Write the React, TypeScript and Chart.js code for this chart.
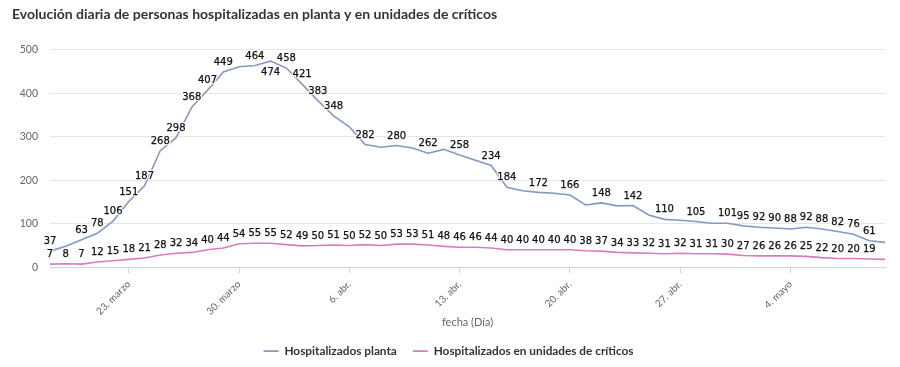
import React, { useEffect, useRef } from "react";
import { Chart, registerables } from "chart.js";

Chart.register(...registerables);

const TITLE = "Evolución diaria de personas hospitalizadas en planta y en unidades de críticos";
const X_TITLE = "fecha (Día)";

const categories = [
  "18. marzo", "19. marzo", "20. marzo", "21. marzo", "22. marzo", "23. marzo", "24. marzo",
  "25. marzo", "26. marzo", "27. marzo", "28. marzo", "29. marzo", "30. marzo", "31. marzo",
  "1. abr.", "2. abr.", "3. abr.", "4. abr.", "5. abr.", "6. abr.", "7. abr.", "8. abr.",
  "9. abr.", "10. abr.", "11. abr.", "12. abr.", "13. abr.", "14. abr.", "15. abr.", "16. abr.",
  "17. abr.", "18. abr.", "19. abr.", "20. abr.", "21. abr.", "22. abr.", "23. abr.", "24. abr.",
  "25. abr.", "26. abr.", "27. abr.", "28. abr.", "29. abr.", "30. abr.",
  "1. mayo", "2. mayo", "3. mayo", "4. mayo", "5. mayo", "6. mayo", "7. mayo", "8. mayo",
  "9. mayo", "10. mayo",
];

const tickLabels = ["23. marzo", "30. marzo", "6. abr.", "13. abr.", "20. abr.", "27. abr.", "4. mayo"];

const yTicks = [0, 100, 200, 300, 400, 500];

const planta = [
  37, 48, 63, 78, 106, 151, 187, 268, 298, 368,
  407, 449, 461, 464, 474, 458, 421, 383, 348, 323,
  282, 276, 280, 274, 262, 271, 258, 246, 234, 184,
  176, 172, 170, 166, 143, 148, 141, 142, 120, 110,
  108, 105, 101, 101, 95, 92, 90, 88, 92, 88,
  82, 76, 61, 57,
];

const criticos = [
  7, 8, 7, 12, 15, 18, 21, 28, 32, 34,
  40, 44, 54, 55, 55, 52, 49, 50, 51, 50,
  52, 50, 53, 53, 51, 48, 46, 46, 44, 40,
  40, 40, 40, 40, 38, 37, 34, 33, 32, 31,
  32, 31, 31, 30, 27, 26, 26, 26, 25, 22,
  20, 20, 19, 18,
];

// indices of points whose value label is hidden (overlap) in the original
const plantaHiddenLabels = [1, 12, 19, 21, 23, 25, 27, 30, 32, 34, 36, 38, 40, 42, 53];
const criticosHiddenLabels = [53];

const seriesNames = ["Hospitalizados planta", "Hospitalizados en unidades de críticos"];

const BLUE = "#8399c2";
const PINK = "#d97cbd";

const dataLabelPlugin = {
  id: "dataLabels",
  afterDatasetsDraw(chart: any) {
    const ctx = chart.ctx;
    const area = chart.chartArea;
    const hiddenSets = [plantaHiddenLabels, criticosHiddenLabels];
    ctx.save();
    ctx.font = "10px 'DejaVu Sans'";
    ctx.textAlign = "center";
    ctx.textBaseline = "middle";
    ctx.lineJoin = "round";
    chart.data.datasets.forEach((ds: any, di: number) => {
      const meta = chart.getDatasetMeta(di);
      meta.data.forEach((el: any, i: number) => {
        if (hiddenSets[di].includes(i)) return;
        const v = ds.data[i];
        let ty = el.y - 9.5;
        if (ty - 6 < area.top - 1) ty = el.y + 11;
        const t = String(v);
        ctx.strokeStyle = "#ffffff";
        ctx.lineWidth = 2.5;
        ctx.strokeText(t, el.x, ty);
        ctx.fillStyle = "#111111";
        ctx.fillText(t, el.x, ty);
        ctx.strokeStyle = "#111111";
        ctx.lineWidth = 0.25;
        ctx.strokeText(t, el.x, ty);
      });
    });
    ctx.restore();
  },
};

export default function App() {
  const ref = useRef<HTMLCanvasElement | null>(null);
  useEffect(() => {
    if (!ref.current) return;
    const chart = new Chart(ref.current, {
      type: "line",
      data: {
        labels: categories,
        datasets: [
          {
            label: seriesNames[0],
            data: planta,
            borderColor: BLUE,
            backgroundColor: BLUE,
            borderWidth: 1.6,
            pointRadius: 0,
            tension: 0,
          },
          {
            label: seriesNames[1],
            data: criticos,
            borderColor: PINK,
            backgroundColor: PINK,
            borderWidth: 1.6,
            pointRadius: 0,
            tension: 0,
          },
        ],
      },
      plugins: [dataLabelPlugin],
      options: {
        animation: false,
        responsive: true,
        maintainAspectRatio: false,
        layout: { padding: { left: 12, right: 15, top: 0, bottom: 0 } },
        plugins: {
          title: {
            display: true,
            text: TITLE,
            align: "start",
            color: "#333333",
            font: { family: "Lato", size: 14, weight: "bold" },
            padding: { top: 6, bottom: 27 },
          },
          legend: {
            position: "bottom",
            labels: {
              usePointStyle: true,
              pointStyle: "line",
              pointStyleWidth: 15,
              boxHeight: 10,
              color: "#333333",
              font: { family: "Lato", size: 11.8, weight: "bold", lineHeight: 0.86 },
              padding: 16,
            },
          },
          tooltip: { enabled: false },
        },
        scales: {
          x: {
            afterFit: (s: any) => {
              s.height = 62;
            },
            grid: {
              drawOnChartArea: false,
              drawTicks: true,
              tickLength: 6,
              color: "#ccd6eb",
            },
            border: { color: "#ccd6eb" },
            ticks: {
              autoSkip: false,
              maxRotation: 45,
              minRotation: 45,
              color: "#666666",
              font: { family: "Lato", size: 10 },
              padding: 5,
              callback: function (this: any, value: any, index: number) {
                const c = categories[index];
                return tickLabels.includes(c) ? c : null;
              },
            },
            title: {
              display: true,
              text: X_TITLE,
              color: "#666666",
              font: { family: "Lato", size: 11 },
              padding: { top: 8, bottom: 0 },
            },
          },
          y: {
            min: 0,
            max: 500,
            afterFit: (s: any) => {
              s.width = 38;
            },
            afterBuildTicks: (s: any) => {
              s.ticks = yTicks.map((v) => ({ value: v }));
            },
            grid: { color: "#e6e6e6", drawTicks: false },
            border: { display: false },
            ticks: {
              color: "#666666",
              font: { family: "Lato", size: 10.5 },
              padding: 12,
            },
          },
        },
      },
    });
    return () => chart.destroy();
  }, []);
  return (
    <div style={{ position: "fixed", left: 0, top: 0, width: 900, height: 367, background: "#fff" }}>
      <canvas ref={ref} />
    </div>
  );
}
